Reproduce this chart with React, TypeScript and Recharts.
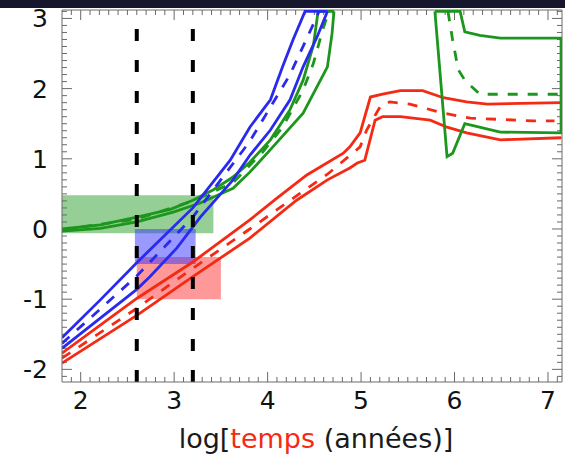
import {
  ComposedChart,
  Line,
  XAxis,
  YAxis,
  ReferenceArea,
  ReferenceLine,
} from "recharts";

// axis labels
const xMajor = [2, 3, 4, 5, 6, 7];
const yMajor = [-2, -1, 0, 1, 2, 3];

// [log(time), value]
const redHigh: [number, number][] = [
  [1.8, -1.77], [2.6, -0.99], [3.2, -0.47], [3.81, 0.13], [4.1, 0.44], [4.42, 0.77],
  [4.81, 1.08], [4.88, 1.17], [4.99, 1.37], [5.1, 1.88], [5.23, 1.92], [5.42, 1.97],
  [5.66, 1.97], [5.88, 1.87], [6.13, 1.81], [6.35, 1.78], [7.14, 1.8],
];
const redMid: [number, number][] = [
  [1.8, -1.84], [2.6, -1.13], [3.2, -0.56], [3.81, 0.0], [4.35, 0.51], [4.64, 0.78],
  [4.99, 1.17], [5.06, 1.41], [5.22, 1.78], [5.31, 1.81], [5.52, 1.78], [5.88, 1.65],
  [6.17, 1.58], [6.84, 1.54], [7.07, 1.54],
];
const redLow: [number, number][] = [
  [1.8, -1.91], [2.6, -1.23], [3.2, -0.68], [3.81, -0.13], [4.31, 0.41], [4.64, 0.7],
  [4.88, 0.87], [4.96, 0.94], [5.04, 0.98], [5.15, 1.55], [5.23, 1.6], [5.42, 1.6],
  [5.74, 1.55], [5.92, 1.45], [6.13, 1.37], [6.49, 1.27], [7.14, 1.3],
];

const blueHigh: [number, number][] = [
  [1.8, -1.55], [2.21, -1.01], [2.6, -0.48], [3.2, 0.3], [3.6, 0.98], [3.81, 1.45],
  [4.03, 1.84], [4.16, 2.31], [4.27, 2.69], [4.4, 3.1], [4.64, 3.1],
];
const blueMid: [number, number][] = [
  [1.8, -1.63], [2.21, -1.14], [2.6, -0.67], [3.2, 0.17], [3.81, 1.25], [4.24, 2.2],
  [4.49, 2.92], [4.55, 3.1],
];
const blueLow: [number, number][] = [
  [1.8, -1.7], [2.21, -1.27], [2.6, -0.86], [2.74, -0.68], [3.03, -0.27], [3.28, 0.17],
  [3.63, 0.7], [3.81, 1.05], [4.03, 1.41], [4.24, 1.84], [4.38, 2.31], [4.53, 2.74],
  [4.64, 3.1],
];

const greenHigh: [number, number][] = [
  [1.8, 0.0], [2.21, 0.06], [2.6, 0.17], [2.96, 0.28], [3.2, 0.41], [3.42, 0.56],
  [3.63, 0.74], [3.81, 0.95], [4.03, 1.27], [4.24, 1.7], [4.38, 2.12], [4.49, 2.62],
  [4.54, 3.1], [4.71, 3.1],
];
const greenMid: [number, number][] = [
  [1.8, -0.01], [2.6, 0.14], [3.2, 0.4], [3.63, 0.66], [3.95, 1.1], [4.16, 1.45],
  [4.38, 1.98], [4.49, 2.36], [4.59, 2.84], [4.65, 3.08],
];
const greenLow: [number, number][] = [
  [1.8, -0.03], [2.21, 0.01], [2.6, 0.1], [2.99, 0.24], [3.28, 0.37], [3.63, 0.58],
  [3.81, 0.81], [4.03, 1.13], [4.38, 1.65], [4.64, 2.31], [4.69, 2.79], [4.71, 3.1],
];
const greenLoop: [number, number][] = [
  [5.79, 3.1], [5.92, 1.03], [5.98, 1.08], [6.11, 1.5], [6.49, 1.38], [7.14, 1.37],
  [7.14, 2.72], [6.49, 2.72], [6.27, 2.76], [6.11, 2.81], [6.06, 3.1], [5.79, 3.1],
];
const greenLoopMid: [number, number][] = [
  [5.93, 3.1], [5.98, 2.69], [6.04, 2.27], [6.11, 2.12], [6.27, 1.92], [7.14, 1.92],
];

// shaded boxes: x1, x2, y1, y2
const greenBox = [1.8, 3.42, -0.06, 0.48];
const redBox = [2.6, 3.5, -1.0, -0.4];
const blueBox = [2.58, 3.23, -0.5, 0.0];
const markers = [2.6, 3.2];

const X_DOMAIN: [number, number] = [1.8, 7.15];
const Y_DOMAIN: [number, number] = [-2.18, 3.12];

const RED = "#f52a14";
const BLUE = "#2a2aee";
const GREEN = "#1c961c";
const AXIS = "#6a6a6a";
const FONT = "DejaVu Sans, sans-serif";

const minorTicks = (lo: number, hi: number) => {
  const out: number[] = [];
  for (let i = Math.ceil(lo * 10 + 1e-6); i <= Math.floor(hi * 10 - 1e-6); i++) out.push(i / 10);
  return out;
};
const xTicks = minorTicks(X_DOMAIN[0], X_DOMAIN[1]);
const yTicks = minorTicks(Y_DOMAIN[0], Y_DOMAIN[1]);
const isMajor = (v: number, major: number[]) => major.some((m) => Math.abs(m - v) < 1e-6);

// inward tick lengths, in data units (about 10px / 5px)
const X_TICK_LEN = (Y_DOMAIN[1] - Y_DOMAIN[0]) / 372;
const Y_TICK_LEN = (X_DOMAIN[1] - X_DOMAIN[0]) / 500;

const pts = (arr: [number, number][]) => arr.map(([x, y]) => ({ x, y }));

function BottomLabel({ x, y, payload }: any) {
  if (!isMajor(payload.value, xMajor)) return <g />;
  return (
    <text x={x} y={y + 27} textAnchor="middle" fontSize={25} fontFamily={FONT} fill="#111">
      {Math.round(payload.value)}
    </text>
  );
}

function LeftLabel({ x, y, payload }: any) {
  if (!isMajor(payload.value, yMajor)) return <g />;
  return (
    <text x={x - 14} y={y + 9} textAnchor="end" fontSize={25} fontFamily={FONT} fill="#111">
      {Math.round(payload.value)}
    </text>
  );
}

function AxisTitle({ viewBox }: any) {
  const { x, y, width } = viewBox;
  return (
    <text x={x + width / 2 + 4} y={y + 66} textAnchor="middle" fontSize={27} fontFamily={FONT} fill="#1a1a1a">
      log[<tspan fill={RED}>temps</tspan> (années)]
    </text>
  );
}

const solid = (data: [number, number][], color: string, key: string) => (
  <Line
    key={key}
    data={pts(data)}
    dataKey="y"
    type="linear"
    stroke={color}
    strokeWidth={2.8}
    dot={false}
    activeDot={false}
    isAnimationActive={false}
  />
);
const dashed = (data: [number, number][], color: string, key: string) => (
  <Line
    key={key}
    data={pts(data)}
    dataKey="y"
    type="linear"
    stroke={color}
    strokeWidth={2.8}
    strokeDasharray="10 10"
    dot={false}
    activeDot={false}
    isAnimationActive={false}
  />
);

function tickMarks() {
  const out: any[] = [];
  const [x0, x1] = X_DOMAIN;
  const [y0, y1] = Y_DOMAIN;
  xTicks.forEach((v) => {
    const len = X_TICK_LEN * (isMajor(v, xMajor) ? 10 : 5);
    out.push(<ReferenceLine key={`b${v}`} segment={[{ x: v, y: y0 }, { x: v, y: y0 + len }]} stroke={AXIS} />);
    out.push(<ReferenceLine key={`t${v}`} segment={[{ x: v, y: y1 }, { x: v, y: y1 - len }]} stroke={AXIS} />);
  });
  yTicks.forEach((v) => {
    const len = Y_TICK_LEN * (isMajor(v, yMajor) ? 10 : 5);
    out.push(<ReferenceLine key={`l${v}`} segment={[{ x: x0, y: v }, { x: x0 + len, y: v }]} stroke={AXIS} />);
    out.push(<ReferenceLine key={`r${v}`} segment={[{ x: x1, y: v }, { x: x1 - len, y: v }]} stroke={AXIS} />);
  });
  return out;
}

export default function App() {
  return (
    <div style={{ position: "absolute", left: 0, top: 0, width: 565, height: 460, background: "#fff" }}>
      <div style={{ position: "absolute", left: 0, top: 0, width: 565, height: 8, background: "#16162c" }} />
      <ComposedChart width={565} height={460} margin={{ top: 10, right: 3, left: 0, bottom: 0 }}>
        <XAxis
          dataKey="x"
          type="number"
          domain={X_DOMAIN}
          allowDataOverflow
          ticks={xTicks}
          interval={0}
          tickSize={0}
          tickMargin={0}
          tickLine={false}
          tick={BottomLabel}
          axisLine={{ stroke: AXIS }}
          height={78}
          label={<AxisTitle />}
        />
        <YAxis
          type="number"
          domain={Y_DOMAIN}
          allowDataOverflow
          ticks={yTicks}
          interval={0}
          tickSize={0}
          tickMargin={0}
          tickLine={false}
          tick={LeftLabel}
          axisLine={{ stroke: AXIS }}
          width={62}
        />
        <ReferenceLine y={Y_DOMAIN[1]} stroke={AXIS} />
        <ReferenceLine x={X_DOMAIN[1]} stroke={AXIS} />
        {tickMarks()}
        <ReferenceArea x1={greenBox[0]} x2={greenBox[1]} y1={greenBox[2]} y2={greenBox[3]} fill="#2ca02c" fillOpacity={0.5} stroke="none" />
        <ReferenceArea x1={redBox[0]} x2={redBox[1]} y1={redBox[2]} y2={redBox[3]} fill="#ff3333" fillOpacity={0.5} stroke="none" />
        <ReferenceArea x1={blueBox[0]} x2={blueBox[1]} y1={blueBox[2]} y2={blueBox[3]} fill="#3333ff" fillOpacity={0.5} stroke="none" />
        {solid(redHigh, RED, "rh")}
        {dashed(redMid, RED, "rm")}
        {solid(redLow, RED, "rl")}
        {solid(greenHigh, GREEN, "gh")}
        {dashed(greenMid, GREEN, "gm")}
        {solid(greenLow, GREEN, "gl")}
        {solid(greenLoop, GREEN, "gr")}
        {dashed(greenLoopMid, GREEN, "grm")}
        {solid(blueHigh, BLUE, "bh")}
        {dashed(blueMid, BLUE, "bm")}
        {solid(blueLow, BLUE, "bl")}
        {markers.map((m) => (
          <ReferenceLine key={m} x={m} stroke="#000" strokeWidth={4} strokeDasharray="12 19" />
        ))}
      </ComposedChart>
    </div>
  );
}
